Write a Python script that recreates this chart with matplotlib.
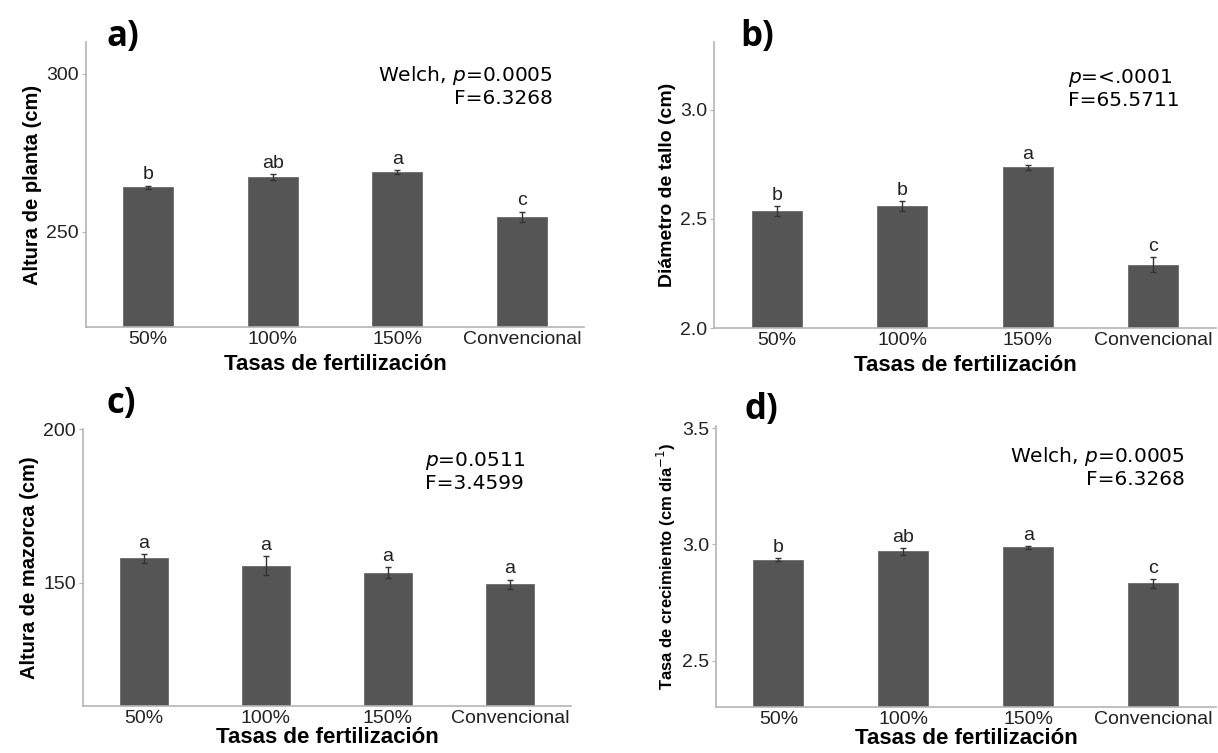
import matplotlib
matplotlib.use("Agg")
from matplotlib import pyplot as plt

W, H = 1218, 753

categorias = ["50%", "100%", "150%", "Convencional"]

altura_planta = [264.1, 267.3, 268.9, 254.8]
altura_planta_err = [0.5, 1.0, 0.6, 1.6]
letras_a = ["b", "ab", "a", "c"]

diametro_tallo = [2.535, 2.558, 2.736, 2.29]
diametro_tallo_err = [0.023, 0.023, 0.011, 0.033]
letras_b = ["b", "b", "a", "c"]

altura_mazorca = [158.0, 155.6, 153.3, 149.5]
altura_mazorca_err = [1.4, 3.0, 1.8, 1.6]
letras_c = ["a", "a", "a", "a"]

tasa_crecimiento = [2.935, 2.970, 2.987, 2.832]
tasa_crecimiento_err = [0.007, 0.015, 0.007, 0.02]
letras_d = ["b", "ab", "a", "c"]

paneles = [
    # caja en px (izq, der, arriba, abajo), datos, err, letras, ylim, yticks, ylabel, tamaño ylabel, pad xlabel
    ((86, 584, 42, 327), altura_planta, altura_planta_err, letras_a, (220, 310), [250, 300],
     "Altura de planta (cm)", 14.5, 4),
    ((714, 1216, 42, 328), diametro_tallo, diametro_tallo_err, letras_b, (2.0, 3.31), [2.0, 2.5, 3.0],
     "Diámetro de tallo (cm)", 14, 4),
    ((83, 571, 429, 706), altura_mazorca, altura_mazorca_err, letras_c, (110, 200), [150, 200],
     "Altura de mazorca (cm)", 14.5, 0),
    ((716, 1216, 426, 707), tasa_crecimiento, tasa_crecimiento_err, letras_d, (2.3, 3.51), [2.5, 3.0, 3.5],
     "Tasa de crecimiento (cm día$^{-1}$)", 12, 0),
]

textos = [
    ("Welch, $p$=0.0005\nF=6.3268", 553, 64, "right"),
    ("$p$=<.0001\nF=65.5711", 1068, 67, "left"),
    ("$p$=0.0511\nF=3.4599", 425, 450, "left"),
    ("Welch, $p$=0.0005\nF=6.3268", 1185, 445, "right"),
]

plt.rcParams["font.family"] = ["Liberation Sans", "DejaVu Sans"]
plt.rcParams["mathtext.fontset"] = "dejavusans"

fig = plt.figure(figsize=(W / 100, H / 100), dpi=100)

gris = "#b5b5b5"
for (l, r, t, b), datos, err, letras, ylim, yticks, ylabel, ysize, xpad in paneles:
    ax = fig.add_axes([l / W, 1 - b / H, (r - l) / W, (b - t) / H])
    x = range(len(categorias))
    ax.bar(x, datos, width=0.4, color="#555555", edgecolor="#6a6a6a", linewidth=0.6,
           yerr=err, error_kw=dict(ecolor="#333333", elinewidth=1, capsize=2, capthick=1))
    rango = ylim[1] - ylim[0]
    for i, (v, e, let) in enumerate(zip(datos, err, letras)):
        ax.text(i, v + e + rango * 0.008, let, ha="center", va="bottom", fontsize=14, color="#222222")
    ax.set_xlim(-0.5, 3.5)
    ax.set_ylim(*ylim)
    ax.set_yticks(yticks)
    ax.set_xticks(list(x))
    ax.set_xticklabels(categorias)
    ax.tick_params(axis="x", length=0, labelsize=14, pad=3, labelcolor="#222222")
    ax.tick_params(axis="y", length=3, color=gris, labelsize=14, pad=2, labelcolor="#222222")
    for s in ["top", "right"]:
        ax.spines[s].set_visible(False)
    for s in ["left", "bottom"]:
        ax.spines[s].set_color(gris)
        ax.spines[s].set_linewidth(1.2)
    ax.set_xlabel("Tasas de fertilización", fontsize=16, fontweight="bold", labelpad=xpad)
    ax.set_ylabel(ylabel, fontsize=ysize, fontweight="bold", labelpad=3)

for txt, px, py, ha in textos:
    fig.text(px / W, 1 - py / H, txt, ha=ha, va="top", fontsize=14.5,
             family="DejaVu Sans", linespacing=1.15, multialignment=ha)

etiquetas = [("a)", 107, 46), ("b)", 740, 46), ("c)", 107, 413), ("d)", 745, 419)]
for txt, px, py in etiquetas:
    fig.text(px / W, 1 - py / H, txt, ha="left", va="baseline", fontsize=25,
             fontweight="bold", family="Open Sans")

fig.savefig("out.png", dpi=100)
